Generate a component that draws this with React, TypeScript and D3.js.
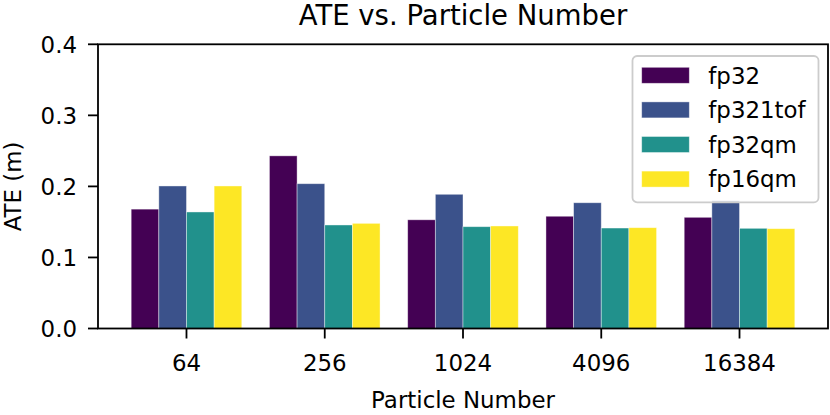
import * as d3 from "d3";
import { useEffect, useRef } from "react";

const categories = ["64", "256", "1024", "4096", "16384"];
const seriesNames = ["fp32", "fp321tof", "fp32qm", "fp16qm"];
const fp32 = [0.168, 0.243, 0.153, 0.158, 0.1565];
const fp321tof = [0.2006, 0.2038, 0.1889, 0.177, 0.18];
const fp32qm = [0.164, 0.1457, 0.1433, 0.1414, 0.141];
const fp16qm = [0.2006, 0.148, 0.1443, 0.1419, 0.1405];
const yTicks = [0, 0.1, 0.2, 0.3, 0.4];
const colors = ["#440154", "#3b528b", "#21918c", "#fde725"];

const W = 830;
const H = 415;
const FONT = "DejaVu Sans, sans-serif";

export default function App() {
  const ref = useRef<SVGSVGElement>(null);

  useEffect(() => {
    if (!ref.current) return;
    const svg = d3.select(ref.current);
    svg.selectAll("*").remove();

    const margin = { top: 44.3, right: 2, bottom: 86.5, left: 98 };
    const innerW = W - margin.left - margin.right;
    const innerH = H - margin.top - margin.bottom;
    const series = [fp32, fp321tof, fp32qm, fp16qm];
    const barW = 0.2;

    const x = d3.scaleLinear().domain([-0.64, 4.64]).range([0, innerW]);
    const y = d3.scaleLinear().domain([0, 0.4]).range([innerH, 0]);

    const g = svg
      .append("g")
      .attr("transform", `translate(${margin.left},${margin.top})`);

    // bars
    series.forEach((vals, s) => {
      g.selectAll(`.bar${s}`)
        .data(vals)
        .enter()
        .append("rect")
        .attr("x", (_, i) => x(i + (s - 1.5) * barW - barW / 2))
        .attr("y", (d) => y(d))
        .attr("width", x(barW) - x(0))
        .attr("height", (d) => innerH - y(d))
        .attr("fill", colors[s])
        .attr("stroke", "white")
        .attr("stroke-opacity", 0.5)
        .attr("stroke-width", 0.8);
    });

    // y ticks
    const yt = g.append("g");
    yTicks.forEach((t) => {
      yt.append("line")
        .attr("x1", -10)
        .attr("x2", 0)
        .attr("y1", y(t))
        .attr("y2", y(t))
        .attr("stroke", "black")
        .attr("stroke-width", 1.8);
      yt.append("text")
        .attr("x", -21)
        .attr("y", y(t) + 8.3)
        .attr("text-anchor", "end")
        .attr("font-size", 22.9)
        .attr("font-family", FONT)
        .text(t.toFixed(1));
    });

    // x ticks
    const xt = g.append("g");
    categories.forEach((c, i) => {
      xt.append("line")
        .attr("x1", x(i))
        .attr("x2", x(i))
        .attr("y1", innerH)
        .attr("y2", innerH + 10)
        .attr("stroke", "black")
        .attr("stroke-width", 1.8);
      xt.append("text")
        .attr("x", x(i))
        .attr("y", innerH + 42.5)
        .attr("text-anchor", "middle")
        .attr("font-size", 22.9)
        .attr("font-family", FONT)
        .text(c);
    });

    // frame
    g.append("rect")
      .attr("x", 0)
      .attr("y", 0)
      .attr("width", innerW)
      .attr("height", innerH)
      .attr("fill", "none")
      .attr("stroke", "black")
      .attr("stroke-width", 1.8);

    // legend
    const lg = svg.append("g").attr("transform", "translate(632.5,56)");
    lg.append("rect")
      .attr("width", 186)
      .attr("height", 146.3)
      .attr("rx", 4.6)
      .attr("fill", "white")
      .attr("fill-opacity", 0.8)
      .attr("stroke", "#cccccc")
      .attr("stroke-width", 1.8);
    seriesNames.forEach((name, i) => {
      const cy = 19.3 + i * 34.6;
      lg.append("rect")
        .attr("x", 9.2)
        .attr("y", cy - 8)
        .attr("width", 47.6)
        .attr("height", 16)
        .attr("fill", colors[i])
        .attr("stroke", "white")
        .attr("stroke-opacity", 0.5)
        .attr("stroke-width", 0.8);
      lg.append("text")
        .attr("x", 75.8)
        .attr("y", cy + 8.3)
        .attr("font-size", 22.9)
        .attr("font-family", FONT)
        .text(name);
    });

    // title and axis labels
    svg.append("text")
      .attr("x", margin.left + innerW / 2)
      .attr("y", 25)
      .attr("text-anchor", "middle")
      .attr("font-size", 27.5)
      .attr("font-family", FONT)
      .text("ATE vs. Particle Number");

    svg.append("text")
      .attr("x", margin.left + innerW / 2)
      .attr("y", 407.5)
      .attr("text-anchor", "middle")
      .attr("font-size", 22.9)
      .attr("font-family", FONT)
      .text("Particle Number");

    svg.append("text")
      .attr(
        "transform",
        `translate(21,${margin.top + innerH / 2}) rotate(-90)`
      )
      .attr("text-anchor", "middle")
      .attr("font-size", 22.9)
      .attr("font-family", FONT)
      .text("ATE (m)");
  }, []);

  return (
    <svg
      ref={ref}
      width={W}
      height={H}
      style={{ position: "absolute", left: 0, top: 0, background: "white" }}
    />
  );
}
